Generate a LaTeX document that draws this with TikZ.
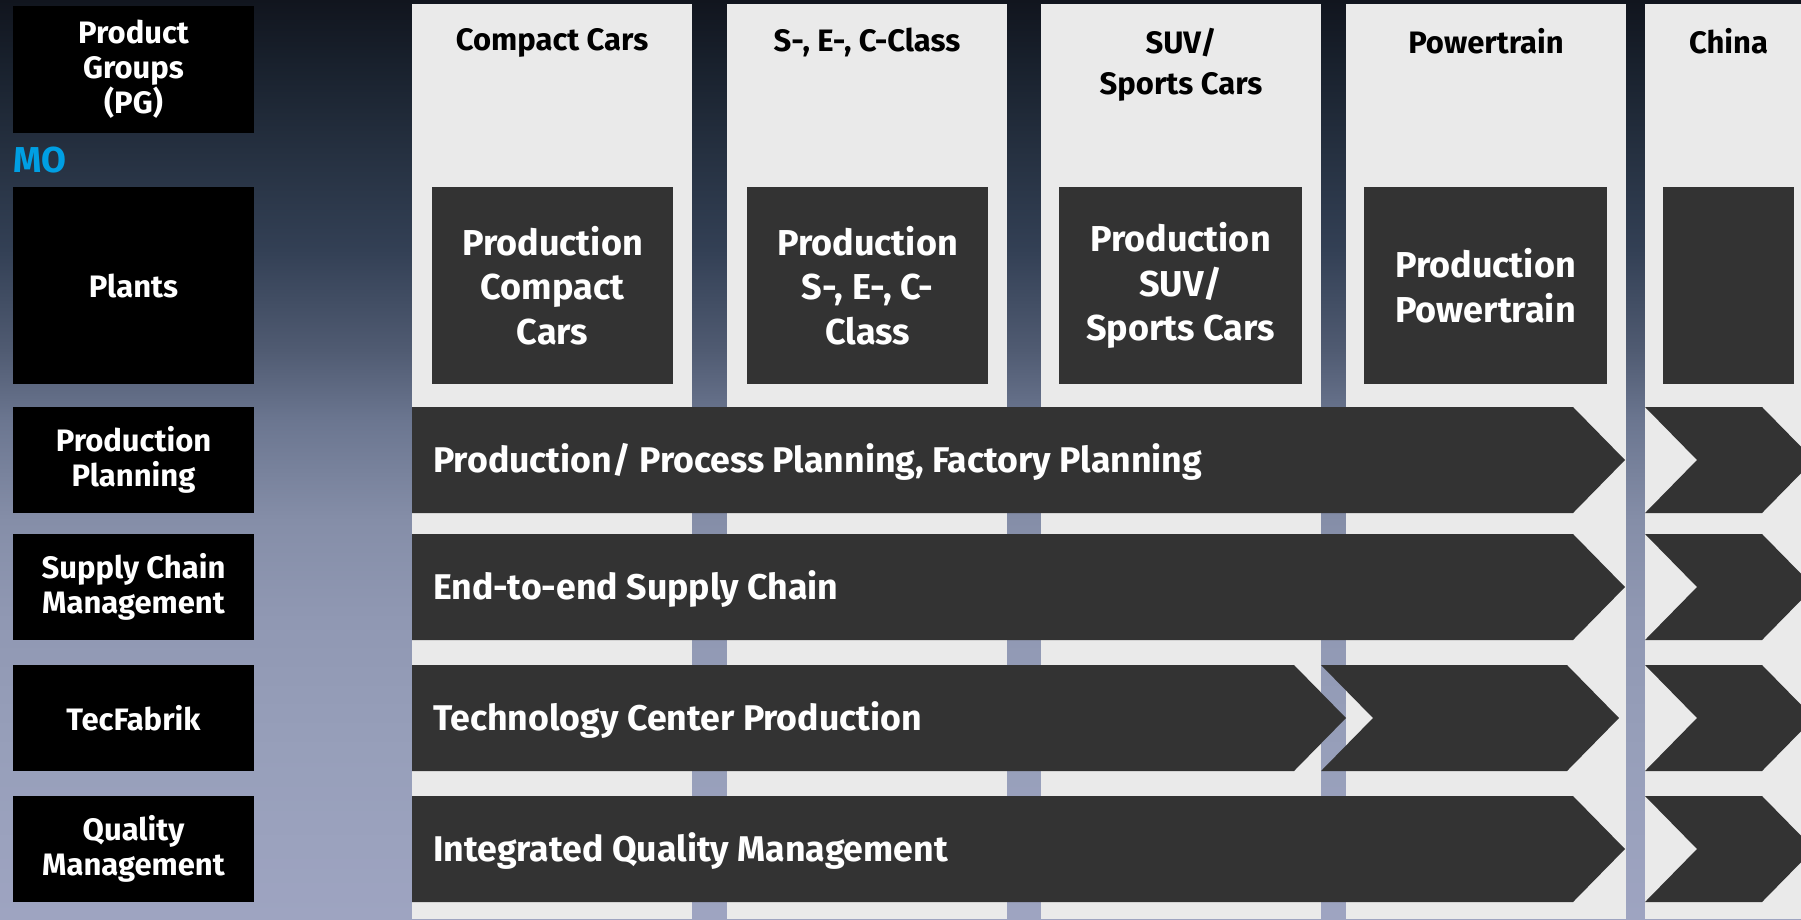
\documentclass[tikz,border=0pt]{standalone}
\usepackage{fontspec}
\setmainfont{Fira Sans}

\definecolor{colgrey}{HTML}{EAEAEA}
\definecolor{darkbox}{HTML}{333333}
\definecolor{moblue}{HTML}{009FE3}
\definecolor{bgA}{HTML}{11151E}
\definecolor{bgB}{HTML}{18202C}
\definecolor{bgC}{HTML}{253040}
\definecolor{bgD}{HTML}{334055}
\definecolor{bgE}{HTML}{505B72}
\definecolor{bgF}{HTML}{6B7690}
\definecolor{bgG}{HTML}{858EA8}
\definecolor{bgH}{HTML}{9098B3}
\definecolor{bgI}{HTML}{979FBA}
\definecolor{bgJ}{HTML}{9EA4C1}

\tikzset{
  rowhead/.style={fill=black, text=white, align=center, inner sep=0pt,
    minimum width=241, font=\bfseries\fontsize{31}{35}\selectfont},
  colhead/.style={text=black, align=center, inner sep=0pt, anchor=north,
    font=\bfseries\fontsize{31}{41}\selectfont},
  plantbox/.style={fill=darkbox, text=white, align=center, inner sep=0pt,
    minimum height=197, font=\bfseries\fontsize{36}{44.5}\selectfont},
  chevtext/.style={text=white, anchor=base west, inner sep=0pt,
    font=\bfseries\fontsize{35.7}{40}\selectfont},
  chevron/.style={fill=darkbox},
  column/.style={fill=colgrey}
}

\begin{document}
\begin{tikzpicture}[x=1pt, y=-1pt]
  \useasboundingbox (0,0) rectangle (1801,919);
  \clip (0,0) rectangle (1801,919);

  % backdrop: dark navy at the top fading to a pale steel blue
  \shade[top color=bgA, bottom color=bgB] (0,0) rectangle (1801,60.5);
  \shade[top color=bgB, bottom color=bgC] (0,60) rectangle (1801,150.5);
  \shade[top color=bgC, bottom color=bgD] (0,150) rectangle (1801,250.5);
  \shade[top color=bgD, bottom color=bgE] (0,250) rectangle (1801,350.5);
  \shade[top color=bgE, bottom color=bgF] (0,350) rectangle (1801,420.5);
  \shade[top color=bgF, bottom color=bgG] (0,420) rectangle (1801,520.5);
  \shade[top color=bgG, bottom color=bgH] (0,520) rectangle (1801,620.5);
  \shade[top color=bgH, bottom color=bgI] (0,620) rectangle (1801,750.5);
  \shade[top color=bgI, bottom color=bgJ] (0,750) rectangle (1801,919);

  % product group columns
  \fill[column] (412,4) rectangle (692,919);
  \fill[column] (727,4) rectangle (1007,919);
  \fill[column] (1041,4) rectangle (1321,919);
  \fill[column] (1346,4) rectangle (1626,919);
  \fill[column] (1645,4) rectangle (1812,919);

  % column headings
  \node[colhead] (hcompact) at (552,28) {Compact Cars};
  \node[colhead] (hsec) at (867,28) {S-, E-, C-Class};
  \node[colhead] (hsuv) at (1181,28) {SUV/\\Sports Cars};
  \node[colhead] (hpower) at (1486,28) {Powertrain};
  \node[colhead] (hchina) at (1728.5,28) {China};

  % plants
  \node[plantbox, minimum width=241] (pcompact) at (552.5,285.5) {Production\\Compact\\Cars};
  \node[plantbox, minimum width=241] (psec) at (867.5,285.5) {Production\\S-, E-, C-\\Class};
  \node[plantbox, minimum width=243] (psuv) at (1180.5,285.5) {Production\\SUV/\\Sports Cars};
  \node[plantbox, minimum width=243] (ppower) at (1485.5,285.5) {Production\\Powertrain};
  \node[plantbox, minimum width=131] (pchina) at (1728.5,285.5) {};

  % row headings on the left
  \node[rowhead, minimum height=127] (pg) at (133.5,69) {Product\\Groups\\(PG)};
  \node[text=moblue, anchor=base west, inner sep=0pt,
        font=\bfseries\fontsize{36}{40}\selectfont] (mo) at (13,172) {MO};
  \node[rowhead, minimum height=197] (plants) at (133.5,285.5) {Plants};
  \node[rowhead, minimum height=106] (pplan) at (133.5,460) {Production\\Planning};
  \node[rowhead, minimum height=106] (scm) at (133.5,587) {Supply Chain\\Management};
  \node[rowhead, minimum height=106] (tecf) at (133.5,718) {TecFabrik};
  \node[rowhead, minimum height=106] (qm) at (133.5,849) {Quality\\Management};

  % cross-functional chevrons
  \fill[chevron] (412,407) -- (1573,407) -- (1625,460) -- (1573,513) -- (412,513) -- cycle;
  \fill[chevron] (1645,407) -- (1762,407) -- (1814,460) -- (1762,513) -- (1645,513) -- (1697,460) -- cycle;
  \node[chevtext] (tplan) at (433,472) {Production/ Process Planning, Factory Planning};

  \fill[chevron] (412,534) -- (1573,534) -- (1625,587) -- (1573,640) -- (412,640) -- cycle;
  \fill[chevron] (1645,534) -- (1762,534) -- (1814,587) -- (1762,640) -- (1645,640) -- (1697,587) -- cycle;
  \node[chevtext] (tscm) at (433,599.5) {End-to-end Supply Chain};

  \fill[chevron] (412,665) -- (1294,665) -- (1346,718) -- (1294,771) -- (412,771) -- cycle;
  \fill[chevron] (1321,665) -- (1567,665) -- (1619,718) -- (1567,771) -- (1321,771) -- (1373,718) -- cycle;
  \fill[chevron] (1645,665) -- (1762,665) -- (1814,718) -- (1762,771) -- (1645,771) -- (1697,718) -- cycle;
  \node[chevtext] (ttec) at (433,730.5) {Technology Center Production};

  \fill[chevron] (412,796) -- (1573,796) -- (1625,849) -- (1573,902) -- (412,902) -- cycle;
  \fill[chevron] (1645,796) -- (1762,796) -- (1814,849) -- (1762,902) -- (1645,902) -- (1697,849) -- cycle;
  \node[chevtext] (tqm) at (433,861.5) {Integrated Quality Management};
\end{tikzpicture}
\end{document}
